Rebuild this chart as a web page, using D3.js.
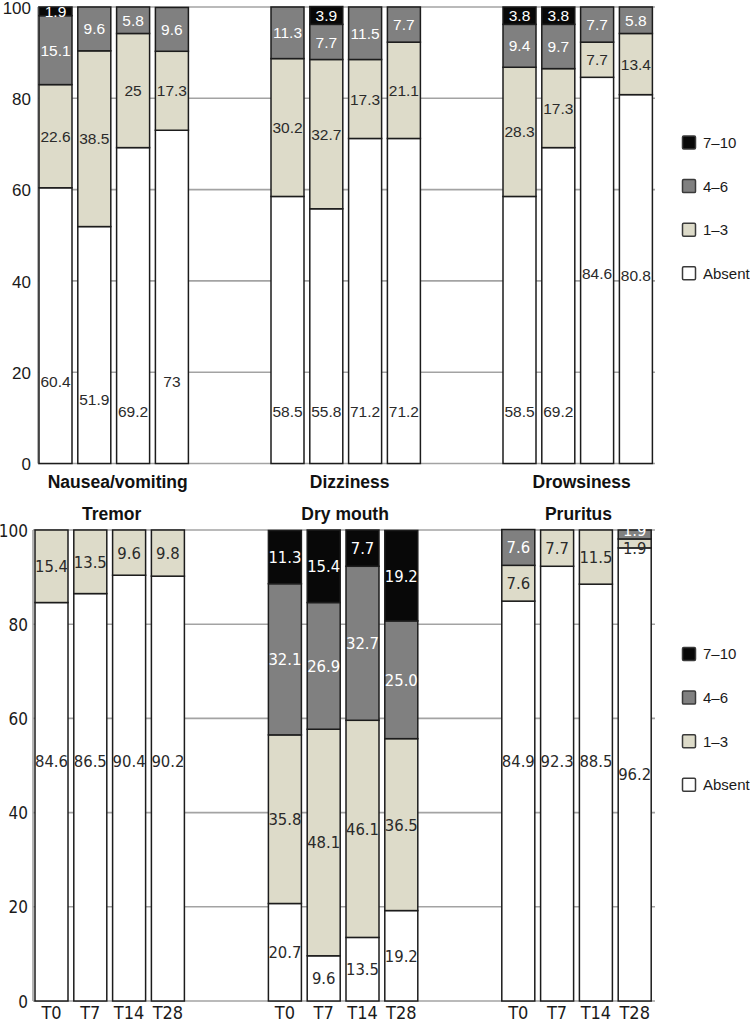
<!DOCTYPE html>
<html>
<head>
<meta charset="utf-8">
<script src="https://cdn.jsdelivr.net/npm/d3@7/dist/d3.min.js"></script>
<style>
  html, body { margin: 0; padding: 0; background: #fff; }
  svg { display: block; }
</style>
</head>
<body>
<svg id="chart" width="750" height="1021"></svg>
<script>
// ---------------- DATA ----------------
const times = ["T0", "T7", "T14", "T28"];
const severities = ["Absent", "1–3", "4–6", "7–10"];   // stacking order, bottom to top
const legendOrder = ["7–10", "4–6", "1–3", "Absent"];
const yTicks = [0, 20, 40, 60, 80, 100];

const topSymptoms = ["Nausea/vomiting", "Dizziness", "Drowsiness"];
const bottomSymptoms = ["Tremor", "Dry mouth", "Pruritus"];

// Nausea/vomiting
const nauseaAbsent = [60.4, 51.9, 69.2, 73];
const nausea1to3   = [22.6, 38.5, 25, 17.3];
const nausea4to6   = [15.1, 9.6, 5.8, 9.6];
const nausea7to10  = [1.9, 0, 0, 0];
// Dizziness
const dizzAbsent = [58.5, 55.8, 71.2, 71.2];
const dizz1to3   = [30.2, 32.7, 17.3, 21.1];
const dizz4to6   = [11.3, 7.7, 11.5, 7.7];
const dizz7to10  = [0, 3.9, 0, 0];
// Drowsiness
const drowAbsent = [58.5, 69.2, 84.6, 80.8];
const drow1to3   = [28.3, 17.3, 7.7, 13.4];
const drow4to6   = [9.4, 9.7, 7.7, 5.8];
const drow7to10  = [3.8, 3.8, 0, 0];
// Tremor
const tremAbsent = [84.6, 86.5, 90.4, 90.2];
const trem1to3   = [15.4, 13.5, 9.6, 9.8];
const trem4to6   = [0, 0, 0, 0];
const trem7to10  = [0, 0, 0, 0];
// Dry mouth
const dryAbsent = [20.7, 9.6, 13.5, 19.2];
const dry1to3   = [35.8, 48.1, 46.1, 36.5];
const dry4to6   = [32.1, 26.9, 32.7, 25.0];
const dry7to10  = [11.3, 15.4, 7.7, 19.2];
// Pruritus
const prurAbsent = [84.9, 92.3, 88.5, 96.2];
const prur1to3   = [7.6, 7.7, 11.5, 1.9];
const prur4to6   = [7.6, 0, 0, 1.9];
const prur7to10  = [0, 0, 0, 0];

// where the original places the "Absent" value labels (in % units; null = segment centre)
const nauseaAbsentLabelAt = [17.9, 14.1, 11.3, 17.9];
const dizzAbsentLabelAt   = [11.3, 11.5, 11.3, 11.3];
const drowAbsentLabelAt   = [11.3, 11.3, 41.7, 41.1];
const tremAbsentLabelAt   = [51, 51, 51, 51];
const dryAbsentLabelAt    = [null, null, null, null];
const prurAbsentLabelAt   = [51, 51, 51, null];
// two tiny Pruritus T28 segments: labels pushed apart (in % units)
const prurT28LabelAt = { "1–3": 96.2, "4–6": 100 };

// ---------------- BUILD TABLES ----------------
function panelData(name, cols, absentAt, extra) {
  return times.map((t, i) => {
    const row = { symptom: name, time: t };
    severities.forEach((s, k) => row[s] = cols[k][i]);
    row.absentAt = absentAt[i];
    row.extra = (extra && extra[t]) || {};
    return row;
  });
}
const topRows = [
  ...panelData("Nausea/vomiting", [nauseaAbsent, nausea1to3, nausea4to6, nausea7to10], nauseaAbsentLabelAt),
  ...panelData("Dizziness", [dizzAbsent, dizz1to3, dizz4to6, dizz7to10], dizzAbsentLabelAt),
  ...panelData("Drowsiness", [drowAbsent, drow1to3, drow4to6, drow7to10], drowAbsentLabelAt)
];
const bottomRows = [
  ...panelData("Tremor", [tremAbsent, trem1to3, trem4to6, trem7to10], tremAbsentLabelAt),
  ...panelData("Dry mouth", [dryAbsent, dry1to3, dry4to6, dry7to10], dryAbsentLabelAt),
  ...panelData("Pruritus", [prurAbsent, prur1to3, prur4to6, prur7to10], prurAbsentLabelAt, { "T28": prurT28LabelAt })
];

// ---------------- STYLE ----------------
const fill = d3.scaleOrdinal().domain(severities).range(["#ffffff", "#dddbc9", "#808080", "#080808"]);
const textFill = d3.scaleOrdinal().domain(severities).range(["#2a2a2a", "#2a2a2a", "#ffffff", "#ffffff"]);
const FONT = "'Liberation Sans', Arial, Helvetica, sans-serif";
const NARROW = "'Liberation Sans Narrow', 'Arial Narrow', 'DejaVu Sans Condensed', sans-serif";

const svg = d3.select("#chart");
const stack = d3.stack().keys(severities);

function drawPanel(rows, symptoms, cfg) {
  const g = svg.append("g");
  const y = d3.scaleLinear().domain([0, 100]).range([cfg.y0, cfg.y100]);

  const groupX = d3.scaleBand().domain(symptoms)
    .range([cfg.barStart, cfg.barStart + symptoms.length * cfg.groupStep])
    .paddingInner(0).paddingOuter(0);
  const barStep = 38.8, barW = 33;
  const innerX = d3.scaleBand().domain(times)
    .range([0, barStep * (times.length - 1) + barW])
    .paddingInner((barStep - barW) / barStep).paddingOuter(0);
  const bx = d => groupX(d.symptom) + innerX(d.time);

  // gridlines
  g.append("g").selectAll("line").data(yTicks).join("line")
    .attr("x1", cfg.x0).attr("x2", cfg.xEnd)
    .attr("y1", d => y(d)).attr("y2", d => y(d))
    .attr("stroke", "#a3a3a3").attr("stroke-width", 1.6);
  // y axis line
  g.append("line").attr("x1", cfg.x0).attr("x2", cfg.x0)
    .attr("y1", y(0)).attr("y2", y(100))
    .attr("stroke", "#a3a3a3").attr("stroke-width", 1.6);

  // tick labels via d3 axis
  const axis = d3.axisLeft(y).tickValues(yTicks).tickSize(0).tickPadding(0).tickFormat(d3.format("d"));
  const ax = g.append("g").attr("transform", `translate(${cfg.tickX},0)`).call(axis);
  ax.select(".domain").remove();
  ax.selectAll("text").attr("font-family", cfg.tickFont).attr("font-size", cfg.tickSize)
    .attr("fill", "#1a1a1a").attr("dy", "0.36em");

  // stacked bars
  const series = stack(rows);
  const segs = g.append("g");
  series.forEach(s => {
    const key = s.key;
    segs.selectAll(null).data(s.filter(d => d[1] - d[0] > 0)).join("rect")
      .attr("x", d => bx(d.data))
      .attr("width", innerX.bandwidth())
      .attr("y", d => y(d[1]))
      .attr("height", d => y(d[0]) - y(d[1]))
      .attr("fill", fill(key))
      .attr("stroke", "#1c1c1c").attr("stroke-width", 1.5);
  });

  // value labels
  const labels = g.append("g");
  series.forEach(s => {
    const key = s.key;
    labels.selectAll(null).data(s.filter(d => d[1] - d[0] > 0)).join("text")
      .attr("x", d => bx(d.data) + innerX.bandwidth() / 2)
      .attr("y", d => {
        let v = (d[0] + d[1]) / 2;
        if (key === "Absent" && d.data.absentAt != null) v = d.data.absentAt;
        if (d.data.extra[key] != null) v = d.data.extra[key];
        return y(v);
      })
      .attr("dy", "0.36em")
      .attr("text-anchor", "middle")
      .attr("font-family", cfg.valFont).attr("font-size", cfg.valSize)
      .attr("fill", textFill(key))
      .text(d => cfg.fmt(d.data[key]));
  });

  // group titles
  g.append("g").selectAll("text").data(symptoms).join("text")
    .attr("x", d => groupX(d) + innerX.range()[1] / 2 + cfg.titleDx)
    .attr("y", cfg.titleY)
    .attr("text-anchor", "middle")
    .attr("font-family", FONT).attr("font-weight", "bold").attr("font-size", 17.5)
    .attr("fill", "#111")
    .text(d => d);

  // x labels
  if (cfg.xLabels) {
    const xl = g.append("g");
    symptoms.forEach(sym => {
      xl.selectAll(null).data(times).join("text")
        .attr("x", t => groupX(sym) + innerX(t) + innerX.bandwidth() / 2)
        .attr("y", cfg.xLabelY)
        .attr("text-anchor", "middle")
        .attr("font-family", NARROW).attr("font-size", 18)
        .attr("fill", "#1a1a1a")
        .text(t => t);
    });
  }

  // legend
  const leg = g.append("g");
  const ly = d3.scalePoint().domain(legendOrder).range([cfg.legendTop, cfg.legendTop + 3 * 43.6]);
  legendOrder.forEach(k => {
    leg.append("rect")
      .attr("x", 682.5).attr("y", ly(k) - 6.5).attr("width", 13).attr("height", 13)
      .attr("rx", 1.2)
      .attr("fill", fill(k)).attr("stroke", "#3a3a3a").attr("stroke-width", 1.5);
    leg.append("text")
      .attr("x", 703).attr("y", ly(k)).attr("dy", "0.36em")
      .attr("font-family", FONT).attr("font-size", 15).attr("fill", "#1a1a1a")
      .text(k);
  });
}

drawPanel(topRows, topSymptoms, {
  x0: 38, xEnd: 655, barStart: 39, groupStep: 232,
  y0: 463.5, y100: 7, tickX: 31, tickFont: FONT, tickSize: 17,
  valFont: FONT, valSize: 15.5, fmt: v => String(v),
  titleY: 488, titleDx: 4, xLabels: false, legendTop: 142.5
});
drawPanel(bottomRows, bottomSymptoms, {
  x0: 33, xEnd: 655, barStart: 35, groupStep: 233.4,
  y0: 1001, y100: 530, tickX: 28, tickFont: NARROW, tickSize: 17,
  valFont: NARROW, valSize: 16.5, fmt: v => v.toFixed(1),
  titleY: 520, titleDx: 2, xLabels: true, xLabelY: 1018.5, legendTop: 654
});
</script>
</body>
</html>
